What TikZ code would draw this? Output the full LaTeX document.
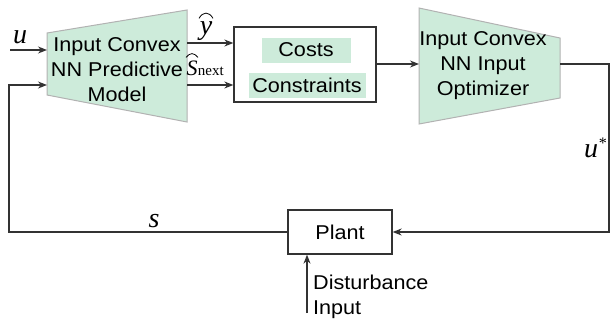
\documentclass[tikz,border=0pt]{standalone}
\usepackage{fontspec}
\setmainfont[FakeStretch=1.08]{Liberation Sans}
\newfontfamily\sigfont{Liberation Serif}
\usetikzlibrary{arrows.meta}
\definecolor{mint}{HTML}{CDEBDA}
\definecolor{linegray}{HTML}{333333}
\tikzset{
  wire/.style={draw=linegray,line width=1.3pt},
  flow/.style={wire,-{Stealth[length=9pt,width=7pt]}},
  block/.style={draw=linegray,line width=1.3pt,fill=white},
  net/.style={fill=mint,draw=black!30,line width=1pt},
  netlabel/.style={align=center},
  tag/.style={fill=mint,minimum height=25pt,inner sep=0pt},
  sig/.style={font=\fontsize{28}{30}\selectfont\sigfont\itshape,inner sep=0pt},
  hat/.style={draw=black,line width=0.8pt},
}
\begin{document}
\begin{tikzpicture}[x=1pt,y=-1pt,font=\fontsize{20}{25}\selectfont]
  \useasboundingbox (0,0) rectangle (610,322);
  % Predictive model
  \draw[net] (47,33) -- (187,10) -- (187,122) -- (47,95) -- cycle;
  \node[netlabel] (model) at (117,70) {Input Convex\\NN Predictive\\Model};
  \coordinate (model-u) at (47,50);
  \coordinate (model-s) at (47,85);
  \coordinate (model-y) at (187,43);
  \coordinate (model-snext) at (187,85);
  % Costs and constraints
  \node[block,minimum width=142pt,minimum height=75pt] (mpc) at (305,64.5) {};
  \node[tag,minimum width=89pt] (costs) at (306,50) {Costs};
  \node[tag,minimum width=117pt] (constr) at (307,85) {Constraints};
  % Input optimizer
  \draw[net] (419,8) -- (560,38) -- (560,98) -- (419,124) -- cycle;
  \node[netlabel] (optim) at (483,66) {Input Convex\\NN Input\\Optimizer};
  \coordinate (optim-in) at (419,64);
  \coordinate (optim-out) at (560,64);
  % Plant
  \node[block,minimum width=104pt,minimum height=44pt] (plant) at (340,232) {Plant};
  \node[align=left,anchor=west,inner sep=0pt] (dist) at (313,297) {Disturbance\\Input};
  \coordinate (dist-in) at (307,313);
  \coordinate (u-in) at (10,50);
  \coordinate (corner-r) at (609,64);
  \coordinate (corner-l) at (9,232);
  % Connectors
  \draw[flow] (u-in) -- (model-u);
  \draw[flow] (model-y) -- (model-y -| mpc.west);
  \draw[flow] (model-snext) -- (model-snext -| mpc.west);
  \draw[flow] (mpc.east |- optim-in) -- (optim-in);
  \draw[flow] (optim-out) -- (corner-r) |- (plant.east);
  \draw[flow] (plant.west) -- (corner-l) |- (model-s);
  \draw[flow] (dist-in) -- (dist-in |- plant.south);
  % Signal labels
  \node[sig] (u) at (20,37) {u};
  \node[sig] (yhat) at (206,31) {y};
  \draw[hat] ([shift={(-7,-3)}]yhat.north) .. controls ([shift={(-3,-10)}]yhat.north) and ([shift={(3,-10)}]yhat.north) .. ([shift={(7,-3)}]yhat.north);
  \node[sig,font=\fontsize{22}{24}\selectfont\sigfont\itshape] (shat) at (192,68) {S};
  \node[anchor=base west,inner sep=0pt,font=\fontsize{15}{16}\selectfont\sigfont] (next) at (shat.base east) {next};
  \draw[hat] ([shift={(-6,-3)}]shat.north) .. controls ([shift={(-2,-8)}]shat.north) and ([shift={(2,-8)}]shat.north) .. ([shift={(6,-3)}]shat.north);
  \node[sig] (s) at (154,221) {s};
  \node[sig] (ustar) at (595,148) {u\raisebox{9pt}{\fontsize{16}{16}\selectfont *}};
\end{tikzpicture}
\end{document}
